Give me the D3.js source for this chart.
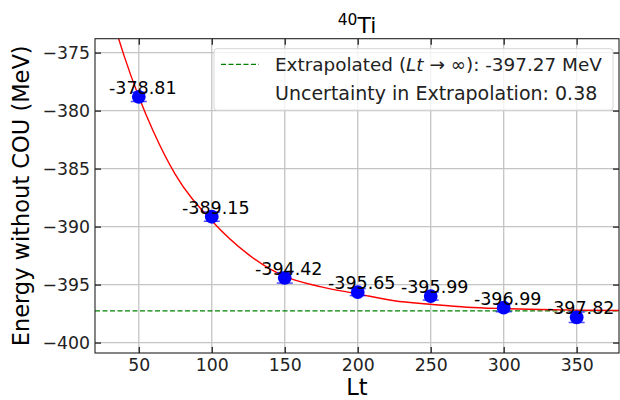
<!DOCTYPE html>
<html>
<head>
<meta charset="utf-8">
<script src="https://cdn.jsdelivr.net/npm/d3@7"></script>
<style>
    body { margin: 0; background: #fff; }
    svg { font-family: 'DejaVu Sans', sans-serif; }
</style>
</head>
<body>
<div id="chart"></div>
<script>
// data
const lt = [50, 100, 150, 200, 250, 300, 350];
const energy = [-378.81, -389.15, -394.42, -395.65, -395.99, -396.99, -397.82];
const errors = [0.4, 0.4, 0.45, 0.3, 0.35, 0.35, 0.45];

// fit curve
const fitLt = [34, 40, 50, 60, 75, 100, 125, 150, 175, 200, 225, 250, 275, 300, 325, 350, 380];
const fitE = [-372.9, -375.3, -378.8, -381.8, -385.5, -389.5, -392.4, -394.3, -395.2, -395.8,
    -396.4, -396.7, -396.95, -397.07, -397.15, -397.2, -397.24];

const extrapolated = -397.27;
const uncertainty = 0.38;

const xTicks = [50, 100, 150, 200, 250, 300, 350];
const yTicks = [-375, -380, -385, -390, -395, -400];

const W = 620;
const H = 400;
const margin = { top: 38.7, right: 1, bottom: 47, left: 95 };
const GRID_COLOR = '#c4c4c4';
const TICK_FONT = 17.3;
const LABEL_FONT = 17.5;

const svg = d3.select('#chart')
    .append('svg')
    .attr('width', W)
    .attr('height', H);

const x = d3.scaleLinear()
    .domain([20, 379])
    .range([margin.left, W - margin.right]);

const y = d3.scaleLinear()
    .domain([-400.9, -373.8])
    .range([H - margin.bottom, margin.top]);

const [x0, x1] = x.range();
const [y1, y0] = y.range();

svg.append('clipPath')
    .attr('id', 'clip')
    .append('rect')
    .attr('x', x0)
    .attr('y', y0)
    .attr('width', x1 - x0)
    .attr('height', y1 - y0);

// grid
svg.append('g')
    .selectAll('line')
    .data(xTicks)
    .enter()
    .append('line')
    .attr('x1', d => x(d))
    .attr('x2', d => x(d))
    .attr('y1', y0)
    .attr('y2', y1)
    .attr('stroke', GRID_COLOR)
    .attr('stroke-width', 1.3);

svg.append('g')
    .selectAll('line')
    .data(yTicks)
    .enter()
    .append('line')
    .attr('x1', x0)
    .attr('x2', x1)
    .attr('y1', d => y(d))
    .attr('y2', d => y(d))
    .attr('stroke', GRID_COLOR)
    .attr('stroke-width', 1.3);

const plot = svg.append('g')
    .attr('clip-path', 'url(#clip)');

// extrapolated level
plot.append('line')
    .attr('x1', x0)
    .attr('x2', x1)
    .attr('y1', y(extrapolated))
    .attr('y2', y(extrapolated))
    .attr('stroke', 'green')
    .attr('stroke-width', 1.3)
    .attr('stroke-dasharray', '5,2.5');

// fit line
const lineFunction = d3.line()
    .x(d => x(d[0]))
    .y(d => y(d[1]))
    .curve(d3.curveMonotoneX);

plot.append('path')
    .attr('d', lineFunction(fitLt.map((d, i) => [d, fitE[i]])))
    .attr('fill', 'none')
    .attr('stroke', 'red')
    .attr('stroke-width', 1.4);

// error bars
const points = lt.map((d, i) => ({ lt: d, e: energy[i], err: errors[i] }));

const eb = plot.append('g')
    .attr('stroke', 'blue')
    .attr('stroke-opacity', 0.7)
    .attr('stroke-width', 1.5);

eb.selectAll('.ebar')
    .data(points)
    .enter()
    .append('line')
    .attr('x1', d => x(d.lt))
    .attr('x2', d => x(d.lt))
    .attr('y1', d => y(d.e - d.err))
    .attr('y2', d => y(d.e + d.err));

['lo', 'hi'].forEach((side) => {
    eb.selectAll(`.cap-${side}`)
        .data(points)
        .enter()
        .append('line')
        .attr('x1', d => x(d.lt) - 8)
        .attr('x2', d => x(d.lt) + 8)
        .attr('y1', d => y(side === 'lo' ? d.e - d.err : d.e + d.err))
        .attr('y2', d => y(side === 'lo' ? d.e - d.err : d.e + d.err));
});

// markers
plot.selectAll('circle')
    .data(points)
    .enter()
    .append('circle')
    .attr('cx', d => x(d.lt))
    .attr('cy', d => y(d.e))
    .attr('r', 6.9)
    .attr('fill', 'blue');

// value labels
svg.append('g')
    .selectAll('text')
    .data(points)
    .enter()
    .append('text')
    .attr('x', d => x(d.lt) + 4)
    .attr('y', d => y(d.e) - 3)
    .attr('text-anchor', 'middle')
    .attr('font-size', LABEL_FONT)
    .attr('fill', 'black')
    .text(d => d.e.toFixed(2));

// frame
svg.append('rect')
    .attr('x', x0)
    .attr('y', y0)
    .attr('width', x1 - x0)
    .attr('height', y1 - y0)
    .attr('fill', 'none')
    .attr('stroke', '#222')
    .attr('stroke-width', 1.1);

// axes, ticks inward on all sides
const axB = svg.append('g')
    .attr('transform', `translate(0,${y1})`)
    .call(d3.axisBottom(x).tickValues(xTicks).tickSizeInner(-6).tickSizeOuter(0).tickPadding(6));
const axT = svg.append('g')
    .attr('transform', `translate(0,${y0})`)
    .call(d3.axisTop(x).tickValues(xTicks).tickSizeInner(-6).tickSizeOuter(0).tickFormat(''));
const axL = svg.append('g')
    .attr('transform', `translate(${x0},0)`)
    .call(d3.axisLeft(y).tickValues(yTicks).tickSizeInner(-6).tickSizeOuter(0).tickPadding(5));
const axR = svg.append('g')
    .attr('transform', `translate(${x1},0)`)
    .call(d3.axisRight(y).tickValues(yTicks).tickSizeInner(-6).tickSizeOuter(0).tickFormat(''));

[axB, axT, axL, axR].forEach((ax) => {
    ax.select('.domain').remove();
    ax.selectAll('line').attr('stroke', '#222').attr('stroke-width', 1.3);
    ax.selectAll('text')
        .attr('font-size', TICK_FONT)
        .attr('font-family', 'DejaVu Sans')
        .attr('fill', '#222');
});

// axis titles
svg.append('text')
    .attr('x', (x0 + x1) / 2)
    .attr('y', 395)
    .attr('text-anchor', 'middle')
    .attr('font-size', 22.5)
    .text('Lt');

svg.append('text')
    .attr('transform', `translate(29,${(y0 + y1) / 2}) rotate(-90)`)
    .attr('text-anchor', 'middle')
    .attr('font-size', 22.5)
    .text('Energy without COU (MeV)');

// title
const title = svg.append('text')
    .attr('x', (x0 + x1) / 2)
    .attr('y', 33)
    .attr('text-anchor', 'middle')
    .attr('font-size', 22);
title.append('tspan')
    .attr('font-size', 15.5)
    .attr('dy', -8)
    .text('40');
title.append('tspan')
    .attr('dy', 8)
    .text('Ti');

// legend
const legend = svg.append('g');
legend.append('rect')
    .attr('x', 214)
    .attr('y', 48.7)
    .attr('width', 399)
    .attr('height', 61.5)
    .attr('rx', 3)
    .attr('fill', 'white')
    .attr('fill-opacity', 0.8)
    .attr('stroke', '#d6d6d6')
    .attr('stroke-width', 1);

legend.append('line')
    .attr('x1', 221)
    .attr('x2', 259)
    .attr('y1', 64.3)
    .attr('y2', 64.3)
    .attr('stroke', 'green')
    .attr('stroke-width', 1.3)
    .attr('stroke-dasharray', '5,2.5');

const l1 = legend.append('text')
    .attr('x', 275)
    .attr('y', 70.5)
    .attr('font-size', 18.4)
    .attr('fill', '#222');
l1.append('tspan').text('Extrapolated (');
l1.append('tspan').attr('font-style', 'italic').text('Lt');
l1.append('tspan').text(` \u2192 \u221e): ${extrapolated.toFixed(2)} MeV`);

legend.append('text')
    .attr('x', 275)
    .attr('y', 99.5)
    .attr('font-size', 19)
    .attr('fill', '#222')
    .text(`Uncertainty in Extrapolation: ${uncertainty.toFixed(2)}`);
</script>
</body>
</html>
